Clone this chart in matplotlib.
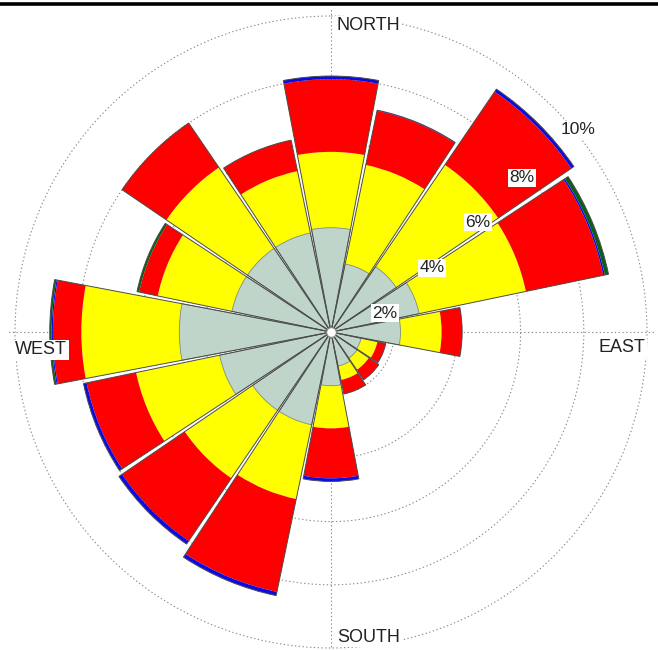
import numpy as np
import matplotlib
matplotlib.use("Agg")
import matplotlib.pyplot as plt
from matplotlib.lines import Line2D

plt.rcParams['font.family'] = ['Liberation Sans', 'DejaVu Sans']

directions = ['N', 'NNE', 'NE', 'ENE', 'E', 'ESE', 'SE', 'SSE',
              'S', 'SSW', 'SW', 'WSW', 'W', 'WNW', 'NW', 'NNW']
# frequency (%) per speed class, stacked outward
band_grey = [3.3, 2.2, 2.5, 2.85, 2.2, 0.97, 1.0, 1.1, 1.7, 3.0, 3.0, 3.6, 4.8, 3.2, 3.2, 3.2]
band_yellow = [2.4, 3.2, 3.9, 3.45, 1.3, 0.53, 0.45, 0.45, 1.35, 2.4, 2.6, 2.7, 3.1, 2.4, 3.1, 2.0]
band_red = [2.3, 1.75, 2.8, 2.5, 0.65, 0.27, 0.38, 0.45, 1.58, 3.0, 2.4, 1.6, 0.9, 0.6, 1.7, 1.0]
band_blue = [0.1, 0.02, 0.1, 0.05, 0, 0, 0, 0, 0.1, 0.12, 0.12, 0.1, 0.04, 0.0, 0, 0]
band_green = [0, 0, 0, 0.12, 0, 0, 0, 0, 0, 0, 0, 0, 0.06, 0.07, 0, 0]
ring_labels = ['2%', '4%', '6%', '8%', '10%']
compass_labels = ['NORTH', 'EAST', 'SOUTH', 'WEST']

bands = [band_grey, band_yellow, band_red, band_blue, band_green]
colors = ['#bfd5c9', '#ffff00', '#ff0000', '#0a0ae6', '#0b5e1a']

W, H = 658, 650
fig = plt.figure(figsize=(W / 100, H / 100), dpi=100)
cx, cy = 331, 332
r10 = 316.0
rmax = 10.3
R = r10 * rmax / 10
ax = fig.add_axes([(cx - R) / W, (H - cy - R) / H, 2 * R / W, 2 * R / H], projection='polar')
ax.set_theta_zero_location('N')
ax.set_theta_direction(-1)
ax.set_ylim(0, rmax)
ax.set_axisbelow(True)

n = len(directions)
theta = np.deg2rad(np.arange(n) * 360.0 / n)
width = np.deg2rad(360.0 / n) * 0.955

bottom = np.zeros(n)
for vals, col in zip(bands, colors):
    v = np.array(vals, dtype=float)
    ax.bar(theta, v, width=width, bottom=bottom, color=col, edgecolor='none', zorder=2)
    bottom += v
# outlines of bars and of the calm-grey class
ax.bar(theta, np.array(band_grey), width=width, bottom=0, fill=False,
       edgecolor='#7a8a80', linewidth=0.6, zorder=3)
ax.bar(theta, bottom, width=width, bottom=0, fill=False,
       edgecolor='#4a4a4a', linewidth=0.7, zorder=3)

ax.plot([0], [0], 'o', ms=7, mfc='white', mec='#888888', mew=0.8, zorder=5)

ax.set_rgrids([2, 4, 6, 8, 10], labels=[''] * 5)
ax.set_thetagrids([0, 90, 180, 270], labels=[''] * 4)
ax.grid(True, color='#8a8a8a', linestyle=(0, (1.2, 2.2)), linewidth=0.8)
ax.spines['polar'].set_visible(False)
ax.set_facecolor('none')

# ring labels
label_pos = [(70.6, 1.81), (57.6, 3.78), (53.2, 5.81), (51.1, 7.77), (50.7, 10.1)]
for lab, (b, r) in zip(ring_labels, label_pos):
    ax.text(np.deg2rad(b), r, lab, ha='center', va='center', fontsize=12.5,
            color='#222222', zorder=6,
            bbox=dict(boxstyle='square,pad=0.08', fc='white', ec='none'))

# compass labels (figure pixel positions)
comp_pos = [(337, 26, 'left'), (598, 348, 'left'), (337, 637, 'left'), (15, 350, 'left')]
for lab, (x, y, ha) in zip(compass_labels, comp_pos):
    fig.text(x / W, 1 - y / H, lab, ha=ha, va='center', fontsize=13, color='#222222',
             bbox=dict(boxstyle='square,pad=0.1', fc='white', ec='none'))

fig.add_artist(Line2D([0, 1], [1 - 3.5 / H, 1 - 3.5 / H], color='black', lw=2.6,
                      transform=fig.transFigure))

fig.savefig('out.png', dpi=100, facecolor='white')
